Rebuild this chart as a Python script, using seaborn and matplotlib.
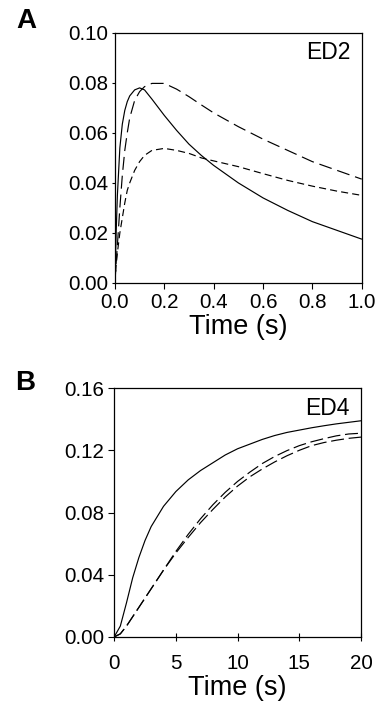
import matplotlib
matplotlib.use("Agg")
import matplotlib.pyplot as plt
import seaborn as sns
import numpy as np
import pandas as pd
from matplotlib.ticker import FormatStrFormatter

# Panel A (ED2), time in s
time_a = [0, 0.005, 0.01, 0.02, 0.03, 0.04, 0.05, 0.06, 0.08, 0.10, 0.12, 0.15,
          0.2, 0.25, 0.3, 0.35, 0.4, 0.5, 0.6, 0.7, 0.8, 0.9, 1.0]
solid_a = [0, 0.02, 0.035, 0.054, 0.0635, 0.0690, 0.0725, 0.0748, 0.0772, 0.078, 0.0772, 0.0735,
           0.067, 0.061, 0.0555, 0.051, 0.047, 0.040, 0.034, 0.029, 0.0245, 0.021, 0.0175]
long_a = [0, 0.008, 0.015, 0.03, 0.043, 0.053, 0.060, 0.066, 0.073, 0.0765, 0.0785, 0.0798,
          0.0798, 0.0775, 0.0745, 0.0712, 0.068, 0.0625, 0.0575, 0.053, 0.0485, 0.045, 0.0415]
short_a = [0, 0.007, 0.012, 0.02, 0.026, 0.032, 0.037, 0.040, 0.045, 0.0485, 0.051, 0.053,
           0.0538, 0.053, 0.0518, 0.050, 0.0488, 0.0465, 0.0437, 0.041, 0.0387, 0.0367, 0.035]

# Panel B (ED4), time in s
time_b = [0, 0.5, 1, 1.5, 2, 2.5, 3, 4, 5, 6, 7, 8, 9, 10, 11, 12, 13, 14, 15, 16, 17, 18, 19, 20]
solid_b = [0, 0.007, 0.022, 0.038, 0.051, 0.062, 0.071, 0.084, 0.0935, 0.101, 0.107, 0.112, 0.117,
           0.121, 0.124, 0.127, 0.1295, 0.1315, 0.133, 0.1345, 0.1358, 0.137, 0.138, 0.139]
dash1_b = [0, 0.002, 0.007, 0.013, 0.019, 0.025, 0.031, 0.043, 0.055, 0.066, 0.076, 0.085, 0.093,
           0.1, 0.106, 0.1115, 0.116, 0.1198, 0.123, 0.1255, 0.1275, 0.1293, 0.1305, 0.131]
dash2_b = [0, 0.002, 0.007, 0.013, 0.019, 0.025, 0.031, 0.043, 0.054, 0.064, 0.0735, 0.082, 0.09,
           0.097, 0.103, 0.108, 0.1125, 0.1165, 0.12, 0.123, 0.125, 0.1265, 0.1277, 0.1285]

sns.set_style("white")
plt.rcParams['font.family'] = ['Liberation Sans', 'DejaVu Sans']
plt.rcParams['text.color'] = 'black'
plt.rcParams['axes.labelcolor'] = 'black'


def long_frame(t, series):
    frames = []
    for name, vals in series.items():
        frames.append(pd.DataFrame({'t': t, 'v': vals, 'curve': name}))
    return pd.concat(frames, ignore_index=True)


df_a = long_frame(time_a, {'solid': solid_a, 'long': long_a, 'short': short_a})
df_b = long_frame(time_b, {'solid': solid_b, 'd1': dash1_b, 'd2': dash2_b})

fig = plt.figure(figsize=(3.78, 7.09), dpi=100)
ax_a = fig.add_axes([0.304, 0.601, 0.653, 0.3526])
ax_b = fig.add_axes([0.302, 0.1016, 0.653, 0.351])

lw = 0.85
sns.lineplot(data=df_a, x='t', y='v', style='curve', color='black', linewidth=lw,
             dashes={'solid': '', 'long': (11, 5), 'short': (6, 3.5)},
             legend=False, ax=ax_a)
sns.lineplot(data=df_b, x='t', y='v', style='curve', color='black', linewidth=lw,
             dashes={'solid': '', 'd1': (11, 4), 'd2': (11, 4)},
             legend=False, ax=ax_b)

ax_a.set_xlim(0, 1.0)
ax_a.set_ylim(0, 0.10)
ax_a.set_xticks(np.arange(0, 1.01, 0.2))
ax_a.set_yticks(np.arange(0, 0.101, 0.02))
ax_a.xaxis.set_major_formatter(FormatStrFormatter('%.1f'))
ax_a.yaxis.set_major_formatter(FormatStrFormatter('%.2f'))

ax_b.set_xlim(0, 20)
ax_b.set_ylim(0, 0.16)
ax_b.set_xticks([0, 5, 10, 15, 20])
ax_b.set_yticks(np.arange(0, 0.161, 0.04))
ax_b.yaxis.set_major_formatter(FormatStrFormatter('%.2f'))

for ax in (ax_a, ax_b):
    for sp in ax.spines.values():
        sp.set_color('black')
        sp.set_linewidth(0.9)
    ax.set_xlabel('Time (s)', fontsize=19.5, labelpad=2)
    ax.set_ylabel('')
    ax.tick_params(axis='both', labelsize=14.8, colors='black', width=0.8, pad=3)

ax_a.tick_params(axis='x', direction='out', length=4, bottom=True)
ax_a.tick_params(axis='y', direction='out', length=2, left=True)
ax_b.tick_params(axis='x', direction='inout', length=6, bottom=True, pad=9)
ax_b.tick_params(axis='y', direction='out', length=4, left=True)

ax_a.text(0.955, 0.92, 'ED2', transform=ax_a.transAxes, ha='right', va='center', fontsize=16.5)
ax_b.text(0.955, 0.92, 'ED4', transform=ax_b.transAxes, ha='right', va='center', fontsize=16.5)

fig.text(26 / 378, 1 - 21 / 709, 'A', fontsize=20, fontweight='bold', ha='center', va='center')
fig.text(25 / 378, 1 - 383 / 709, 'B', fontsize=20, fontweight='bold', ha='center', va='center')

fig.savefig('out.png', dpi=100)
